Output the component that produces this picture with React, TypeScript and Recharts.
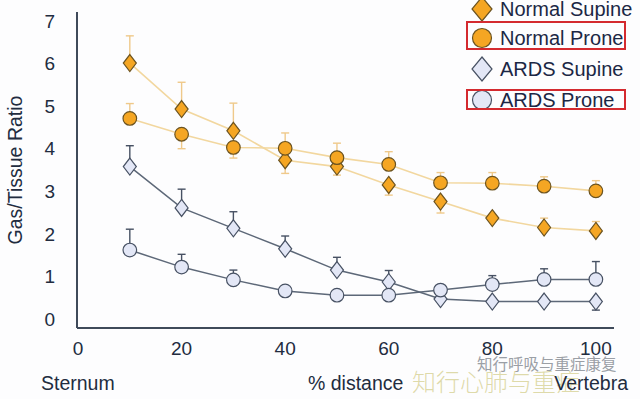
import React from 'react';
import { ComposedChart, Line, XAxis, YAxis, ErrorBar } from 'recharts';

// % distance from sternum to vertebra
const distance = [10, 20, 30, 40, 50, 60, 70, 80, 90, 100];

const normalSupine = [6.01, 4.93, 4.42, 3.73, 3.58, 3.15, 2.76, 2.37, 2.15, 2.07];
const normalProne = [4.71, 4.34, 4.03, 4.01, 3.79, 3.63, 3.2, 3.19, 3.12, 3.01];
const ardsSupine = [3.58, 2.61, 2.13, 1.65, 1.15, 0.87, 0.47, 0.41, 0.41, 0.41];
const ardsProne = [1.62, 1.22, 0.92, 0.66, 0.56, 0.56, 0.68, 0.81, 0.93, 0.93];

// [below, above]
const normalSupineErr = [[0, 0.64], [0, 0.63], [0, 0.65], [0.31, 0], [0.2, 0], [0.24, 0], [0.27, 0], [0, 0], [0, 0.22], [0, 0.22]];
const normalProneErr = [[0, 0.35], [0.34, 0], [0.25, 0], [0, 0.36], [0, 0.34], [0, 0.3], [0, 0.24], [0, 0.25], [0, 0.22], [0, 0.24]];
const ardsSupineErr = [[0, 0.49], [0, 0.44], [0, 0.39], [0, 0.3], [0, 0.3], [0, 0.27], [0, 0], [0, 0], [0, 0], [0.2, 0]];
const ardsProneErr = [[0, 0.49], [0, 0.3], [0, 0.23], [0, 0], [0, 0], [0, 0], [0, 0], [0, 0.21], [0, 0.25], [0, 0.42]];

const xTicks = [0, 20, 40, 60, 80, 100];
const yTicks = [0, 1, 2, 3, 4, 5, 6, 7];

const rows = distance.map((d, i) => ({
  d,
  ns: normalSupine[i],
  np: normalProne[i],
  as: ardsSupine[i],
  ap: ardsProne[i],
  nsErr: normalSupineErr[i],
  npErr: normalProneErr[i],
  asErr: ardsSupineErr[i],
  apErr: ardsProneErr[i],
}));

const FONT = '"Liberation Sans", Arial, Helvetica, sans-serif';
const TEXT = '#222c3f';
const ORANGE = '#f5a623';
const ORANGE_EDGE = '#6b5320';
const ORANGE_LINE = '#f2d79f';
const ORANGE_BAR = '#efc98a';
const PALE = '#e3e7f6';
const PALE_EDGE = '#475163';
const PALE_LINE = '#5d6878';

const diamond = (fill: string, stroke: string) => (props: any) => {
  const { cx, cy, index } = props;
  if (cx == null || cy == null) return <g key={index} />;
  const w = 6.5;
  const h = 8.5;
  return (
    <path
      key={index}
      d={`M${cx},${cy - h}L${cx + w},${cy}L${cx},${cy + h}L${cx - w},${cy}Z`}
      fill={fill}
      stroke={stroke}
      strokeWidth={1.2}
    />
  );
};

const circle = (fill: string, stroke: string) => (props: any) => {
  const { cx, cy, index } = props;
  if (cx == null || cy == null) return <g key={index} />;
  return <circle key={index} cx={cx} cy={cy} r={6.8} fill={fill} stroke={stroke} strokeWidth={1.2} />;
};

const legendItems = [
  { label: 'Normal Supine', shape: 'diamond', fill: ORANGE, stroke: ORANGE_EDGE, y: 9 },
  { label: 'Normal Prone', shape: 'circle', fill: ORANGE, stroke: ORANGE_EDGE, y: 38 },
  { label: 'ARDS Supine', shape: 'diamond', fill: PALE, stroke: PALE_EDGE, y: 69 },
  { label: 'ARDS Prone', shape: 'circle', fill: PALE, stroke: PALE_EDGE, y: 100 },
];

export default function App() {
  return (
    <div style={{ position: 'absolute', left: 0, top: 0, width: 640, height: 399, background: '#fdfdfe', fontFamily: FONT, overflow: 'hidden' }}>
      <ComposedChart width={640} height={399} data={rows} margin={{ top: 12, right: 26, left: 0, bottom: 41 }}>
        <XAxis
          dataKey="d"
          type="number"
          domain={[-0.2, 103.5]}
          ticks={xTicks}
          allowDataOverflow
          axisLine={{ stroke: '#3f4a5a', strokeWidth: 2 }}
          tickLine={false}
          tickSize={0}
          tickMargin={14}
          tick={{ fill: TEXT, fontSize: 19, fontFamily: FONT }}
          height={30}
        />
        <YAxis
          type="number"
          domain={[-0.21, 7.21]}
          ticks={yTicks}
          allowDataOverflow
          width={77}
          axisLine={{ stroke: '#3f4a5a', strokeWidth: 2 }}
          tickLine={false}
          tickSize={0}
          tickMargin={22}
          tick={{ fill: TEXT, fontSize: 19, fontFamily: FONT }}
          label={(p: any) => {
            const vb = p.viewBox || { x: 0, y: 12, width: 77, height: 316 };
            const cx = 15;
            const cy = vb.y + vb.height / 2;
            return (
              <text
                x={cx}
                y={cy}
                transform={`rotate(-90 ${cx} ${cy})`}
                textAnchor="middle"
                dominantBaseline="central"
                fill={TEXT}
                fontSize={19.5}
                fontFamily={FONT}
              >
                Gas/Tissue Ratio
              </text>
            );
          }}
        />
        <Line dataKey="ns" stroke={ORANGE_LINE} strokeWidth={1.6} dot={diamond(ORANGE, ORANGE_EDGE)} activeDot={false} isAnimationActive={false}>
          <ErrorBar dataKey="nsErr" direction="y" width={4} stroke={ORANGE_BAR} strokeWidth={1.4} />
        </Line>
        <Line dataKey="np" stroke={ORANGE_LINE} strokeWidth={1.6} dot={circle(ORANGE, ORANGE_EDGE)} activeDot={false} isAnimationActive={false}>
          <ErrorBar dataKey="npErr" direction="y" width={4} stroke={ORANGE_BAR} strokeWidth={1.4} />
        </Line>
        <Line dataKey="as" stroke={PALE_LINE} strokeWidth={1.5} dot={diamond(PALE, PALE_EDGE)} activeDot={false} isAnimationActive={false}>
          <ErrorBar dataKey="asErr" direction="y" width={4} stroke={PALE_EDGE} strokeWidth={1.4} />
        </Line>
        <Line dataKey="ap" stroke={PALE_LINE} strokeWidth={1.5} dot={circle(PALE, PALE_EDGE)} activeDot={false} isAnimationActive={false}>
          <ErrorBar dataKey="apErr" direction="y" width={4} stroke={PALE_EDGE} strokeWidth={1.4} />
        </Line>
      </ComposedChart>

      {/* legend */}
      {legendItems.map((it) => (
        <div key={it.label} style={{ position: 'absolute', left: 470, top: it.y - 14, height: 28, display: 'flex', alignItems: 'center' }}>
          <svg width={24} height={28} style={{ display: 'block' }}>
            {it.shape === 'diamond' ? (
              <path d="M12,2L22,14L12,26L2,14Z" fill={it.fill} stroke={it.stroke} strokeWidth={1.2} />
            ) : (
              <circle cx={12} cy={14} r={9.5} fill={it.fill} stroke={it.stroke} strokeWidth={1.2} />
            )}
          </svg>
          <span style={{ marginLeft: 6, fontSize: 20, color: '#1b2745', whiteSpace: 'nowrap' }}>{it.label}</span>
        </div>
      ))}
      <div style={{ position: 'absolute', left: 466, top: 21, width: 156, height: 25, border: '2.5px solid #d42a2f' }} />
      <div style={{ position: 'absolute', left: 466, top: 89, width: 156, height: 17, border: '2.5px solid #d42a2f' }} />

      {/* bottom captions */}
      <div style={{ position: 'absolute', left: 41, top: 372, fontSize: 19.5, color: TEXT }}>Sternum</div>
      <div style={{ position: 'absolute', left: 308, top: 372, fontSize: 19.5, color: TEXT }}>% distance</div>

      {/* watermark */}
      <div style={{ position: 'absolute', left: 477, top: 354, fontSize: 15.5, color: '#8a8f96', fontFamily: '"Noto Sans CJK SC", sans-serif', lineHeight: '18px', opacity: 0.85 }}>知行呼吸与重症康复</div>
      <div style={{ position: 'absolute', left: 412, top: 365, fontSize: 24, color: 'rgba(196,188,96,0.55)', fontFamily: '"Noto Sans CJK SC", sans-serif', lineHeight: '32px', fontWeight: 300 }}>知行心肺与重症</div>
      <div style={{ position: 'absolute', right: 12, top: 372, fontSize: 19.5, color: TEXT }}>Vertebra</div>
    </div>
  );
}
